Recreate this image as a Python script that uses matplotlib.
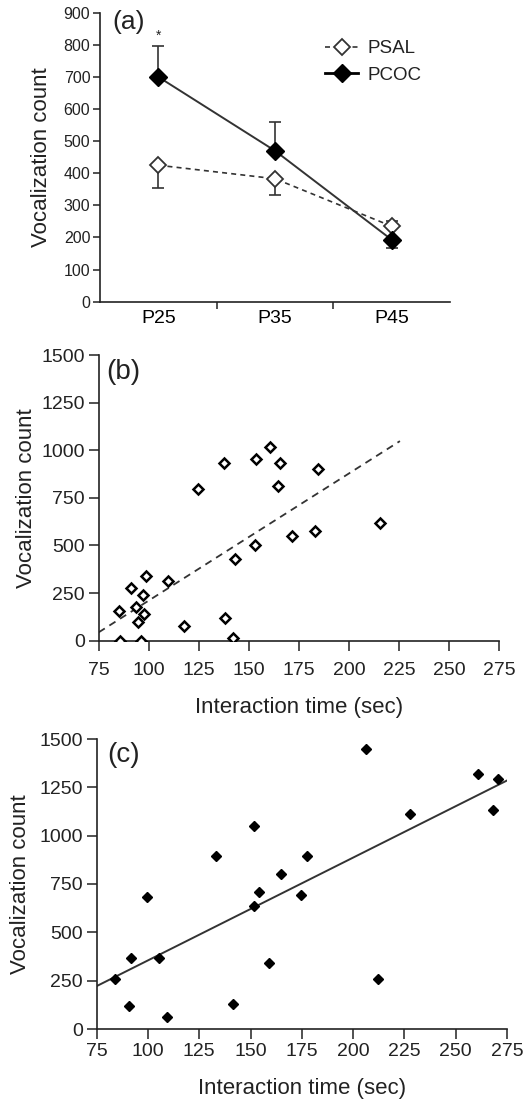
import matplotlib
matplotlib.use("Agg")
import matplotlib.pyplot as plt
from matplotlib.lines import Line2D

plt.rcParams['font.family'] = ['Liberation Sans', 'DejaVu Sans']

# ---- Panel (a) data ----
ages = ["P25", "P35", "P45"]
psal_mean = [425, 383, 235]
psal_err = [70, 50, 17]          # PSAL error bars drawn downward (P45 upward)
pcoc_mean = [700, 470, 193]
pcoc_err = [97, 90, 25]          # PCOC error bars drawn upward (P45 downward)

# ---- Panel (b) data (PSAL) ----
b_time = [85.3, 91.2, 93.7, 94.5, 97.0, 97.8, 98.5, 109.5, 117.8, 124.8, 137.8,
          138.1, 142.3, 142.9, 153.1, 153.6, 160.4, 164.6, 165.6, 171.6, 182.9,
          184.7, 215.5, 85.7, 96.3]
b_count = [157, 278, 178, 98, 240, 142, 341, 311, 77, 794, 934,
           119, 12, 427, 502, 952, 1018, 810, 934, 551, 577,
           901, 619, 0, 0]
b_fit_x = [75, 225.5]
b_fit_y = [44, 1048]

# ---- Panel (c) data (PCOC) ----
c_time = [83.9, 90.9, 91.6, 99.7, 105.5, 109.1, 133.1, 141.6, 151.6, 151.6, 153.9,
          159.1, 164.8, 174.8, 177.3, 206.5, 212.3, 227.6, 260.7, 268.2, 270.8]
c_count = [260, 119, 369, 684, 369, 62, 893, 128, 1052, 636, 709,
           343, 802, 691, 893, 1450, 260, 1110, 1317, 1133, 1293]
c_fit_x = [75, 275.5]
c_fit_y = [222, 1288]

INK = '#222222'
LINE = '#333333'

fig = plt.figure(figsize=(5.27, 11.02), dpi=100)
W, H = 527.0, 1102.0

def add_axes(l, r, t, b):
    return fig.add_axes([l / W, 1 - b / H, (r - l) / W, (b - t) / H])

def style(ax):
    for s in ['top', 'right']:
        ax.spines[s].set_visible(False)
    for s in ['left', 'bottom']:
        ax.spines[s].set_linewidth(1.2)
        ax.spines[s].set_color(INK)
    ax.tick_params(direction='out', width=1.1, color=INK, labelcolor=INK)

# ---------- (a) ----------
axa = add_axes(100, 450, 12.7, 301.7)
style(axa)
xs = list(range(len(ages)))
eb = dict(fmt='none', ecolor=LINE, elinewidth=1.2, capsize=4, capthick=1.2, zorder=2)
axa.errorbar(xs[:2], psal_mean[:2], yerr=[psal_err[:2], [0, 0]], **eb)
axa.errorbar(xs[2:], psal_mean[2:], yerr=[[0], psal_err[2:]], **eb)
axa.errorbar(xs[:2], pcoc_mean[:2], yerr=[[0, 0], pcoc_err[:2]], **eb)
axa.errorbar(xs[2:], pcoc_mean[2:], yerr=[pcoc_err[2:], [0]], **eb)
axa.plot(xs, psal_mean, linestyle=(0, (3, 2.5)), color=LINE, lw=1.2,
         marker='D', markersize=8.5, markerfacecolor='white',
         markeredgecolor=LINE, markeredgewidth=1.3, zorder=3, label='PSAL')
axa.plot(xs, pcoc_mean, linestyle='-', color=LINE, lw=1.4,
         marker='D', markersize=9, markerfacecolor='black',
         markeredgecolor='black', zorder=4, label='PCOC')
axa.text(0, 828, '*', ha='center', va='center', fontsize=10, color=INK)
axa.set_xlim(-0.5, 2.5)
axa.set_ylim(0, 900)
axa.set_yticks(range(0, 901, 100))
axa.set_xticks([0.5, 1.5])
axa.set_xticklabels([])
axa.set_xticks(xs, minor=True)
axa.set_xticklabels(ages, minor=True)
axa.tick_params(axis='x', which='minor', length=0, labelsize=14, pad=6)
axa.tick_params(axis='x', which='major', length=5)
axa.tick_params(axis='y', labelsize=11.5, length=5, pad=2)
axa.set_ylabel('Vocalization count', fontsize=16, color=INK, labelpad=8)
axa.text(0.035, 1.01, '(a)', transform=axa.transAxes, fontsize=19, color=INK,
         ha='left', va='top')
handles = [
    Line2D([], [], linestyle=(0, (3, 2.5)), color=LINE, lw=1.2, marker='D',
           markersize=8.5, markerfacecolor='white', markeredgecolor=LINE,
           markeredgewidth=1.3),
    Line2D([], [], linestyle='-', color='black', lw=2, marker='D', markersize=9,
           markerfacecolor='black', markeredgecolor='black'),
]
axa.legend(handles, ['PSAL', 'PCOC'], loc='upper left', bbox_to_anchor=(0.643, 0.905),
           frameon=False, fontsize=13.5, handlelength=1.76, handletextpad=0.53,
           labelspacing=0.5, borderpad=0, borderaxespad=0, labelcolor=INK)

# ---------- (b) ----------
axb = add_axes(98.7, 499, 355, 640.7)
style(axb)
axb.plot(b_time, b_count, linestyle='none', marker='D', markersize=5.5,
         markerfacecolor='white', markeredgecolor='black', markeredgewidth=1.8,
         zorder=3)
axb.plot(b_fit_x, b_fit_y, linestyle=(0, (4, 3)), color=LINE, lw=1.3, zorder=2)
axb.set_xlim(75, 275)
axb.set_ylim(0, 1500)
axb.set_xticks(range(75, 276, 25))
axb.set_yticks(range(0, 1501, 250))
axb.tick_params(labelsize=14, length=7, pad=3)
axb.tick_params(axis='x', pad=8)
axb.set_xlabel('Interaction time (sec)', fontsize=16, color=INK, labelpad=13)
axb.set_ylabel('Vocalization count', fontsize=16, color=INK, labelpad=3)
axb.text(0.02, 0.985, '(b)', transform=axb.transAxes, fontsize=20, color=INK,
         ha='left', va='top')

# ---------- (c) ----------
axc = add_axes(96.7, 507, 739, 1029)
style(axc)
axc.plot(c_time, c_count, linestyle='none', marker='D', markersize=5.5,
         markerfacecolor='black', markeredgecolor='black', zorder=3)
axc.plot(c_fit_x, c_fit_y, linestyle='-', color=LINE, lw=1.4, zorder=2)
axc.set_xlim(75, 275)
axc.set_ylim(0, 1500)
axc.set_xticks(range(75, 276, 25))
axc.set_yticks(range(0, 1501, 250))
axc.tick_params(labelsize=14, length=7, pad=3)
axc.tick_params(axis='x', pad=3)
axc.set_xlabel('Interaction time (sec)', fontsize=16, color=INK, labelpad=13)
axc.set_ylabel('Vocalization count', fontsize=16, color=INK, labelpad=6)
axc.text(0.025, 0.99, '(c)', transform=axc.transAxes, fontsize=20, color=INK,
         ha='left', va='top')

fig.savefig('out.png', dpi=100, facecolor='white')
